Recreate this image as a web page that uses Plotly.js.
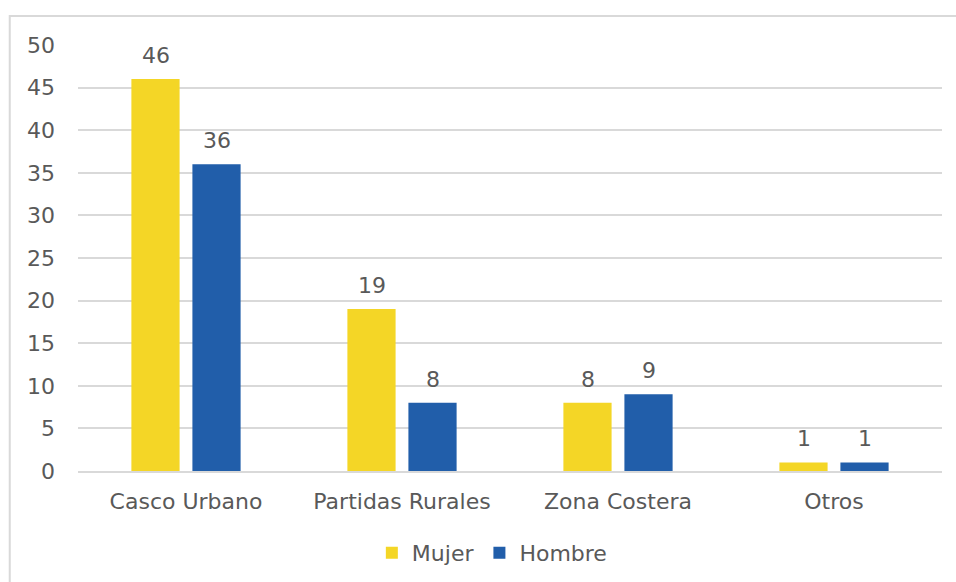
<!DOCTYPE html>
<html>
<head>
<meta charset="utf-8">
<script src="https://cdn.plot.ly/plotly-3.0.1.min.js"></script>
<style>
  body { margin: 0; background: #fff; }
  #chart { width: 956px; height: 582px; }
</style>
</head>
<body>
<div id="chart"></div>
<script>
var zonas = ['Casco Urbano', 'Partidas Rurales', 'Zona Costera', 'Otros'];
var mujer = [46, 19, 8, 1];
var hombre = [36, 8, 9, 1];
var yTicks = [0, 5, 10, 15, 20, 25, 30, 35, 40, 45, 50];

var gris = '#595959';
var fuente = { family: 'DejaVu Sans, sans-serif', size: 22, color: gris };

var data = [{
    x: zonas,
    y: mujer,
    type: 'bar',
    name: 'Mujer',
    marker: { color: '#F4D626' }
}, {
    x: zonas,
    y: hombre,
    type: 'bar',
    name: 'Hombre',
    marker: { color: '#215EAA' }
}];

// etiquetas de valor encima de cada barra
var etiquetas = [];
zonas.forEach(function(z, i) {
    etiquetas.push({ x: z, y: mujer[i], text: String(mujer[i]), xshift: -30.5 });
    etiquetas.push({ x: z, y: hombre[i], text: String(hombre[i]), xshift: 30.5 });
});
etiquetas = etiquetas.map(function(a) {
    a.xref = 'x'; a.yref = 'y';
    a.showarrow = false;
    a.yanchor = 'bottom';
    a.yshift = 9;
    a.font = fuente;
    return a;
});

var layout = {
    width: 956,
    height: 582,
    margin: { l: 78, r: 14, t: 45, b: 111 },
    font: fuente,
    barmode: 'group',
    bargap: 0.435,
    bargroupgap: 0.21,
    showlegend: true,
    legend: {
        orientation: 'h',
        xref: 'container', yref: 'container',
        x: 0.515, xanchor: 'center',
        y: 0.05, yanchor: 'middle',
        font: fuente,
        itemwidth: 30
    },
    xaxis: {
        automargin: false,
        showgrid: false,
        showline: true,
        linecolor: '#D9D9D9',
        linewidth: 2,
        ticks: '',
        ticklabelstandoff: 10,
        tickfont: fuente
    },
    yaxis: {
        automargin: false,
        range: [0, 50],
        tickvals: yTicks,
        showgrid: true,
        gridcolor: '#D9D9D9',
        gridwidth: 2,
        zeroline: false,
        ticks: '',
        ticklabelstandoff: 22,
        tickfont: fuente
    },
    annotations: etiquetas,
    shapes: [{
        type: 'rect',
        xref: 'paper', yref: 'paper',
        x0: -0.079, x1: 1.2,
        y0: -0.35, y1: 1.068,
        line: { color: '#D9D9D9', width: 2 }
    }],
    paper_bgcolor: '#fff',
    plot_bgcolor: '#fff'
};

Plotly.newPlot('chart', data, layout, { displayModeBar: false, staticPlot: true });
</script>
</body>
</html>
